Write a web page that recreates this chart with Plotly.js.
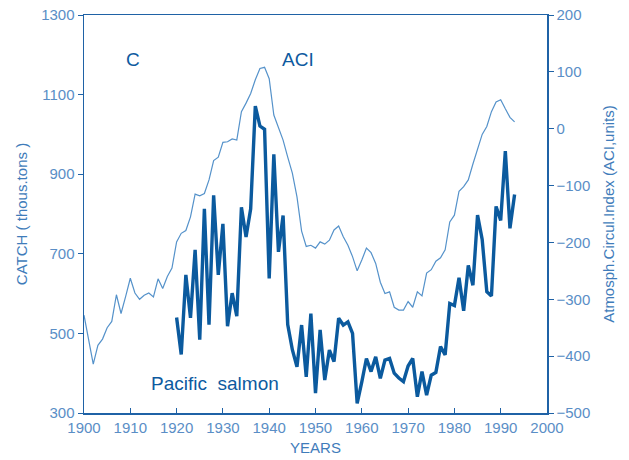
<!DOCTYPE html>
<html>
<head>
<meta charset="utf-8">
<script src="https://cdn.plot.ly/plotly-3.0.1.min.js"></script>
<style>html,body{margin:0;padding:0;background:#fff;}#chart{width:629px;height:460px;}</style>
</head>
<body>
<div id="chart"></div>
<script>
// ACI (Atmospheric Circulation Index), 1900-1993
const aciYears = [];
for (let y = 1900; y <= 1993; y++) aciYears.push(y);
const aciValues = [
  -328, -370, -414, -381, -370, -350, -339, -292, -325, -295,
  -263, -289, -300, -293, -289, -296, -264, -281, -260, -245,
  -199, -184, -179, -155, -115, -118, -114, -90, -56, -50,
  -24, -23, -18, -20, 30, 45, 62, 86, 106, 108,
  88, 24, 0, -20, -50, -78, -120, -180, -207, -205,
  -210, -199, -203, -196, -178, -171, -190, -205, -225, -250,
  -231, -210, -218, -237, -270, -290, -287, -314, -319, -319,
  -304, -314, -287, -294, -254, -248, -233, -227, -213, -164,
  -152, -110, -102, -90, -62, -35, -10, 4, 30, 47,
  51, 35, 20, 12
];

// Pacific salmon catch (thous. tons), 1920-1993
const salmonYears = [];
for (let y = 1920; y <= 1993; y++) salmonYears.push(y);
const salmonCatch = [
  540, 447, 647, 539, 710, 484, 813, 522, 847, 647,
  775, 518, 601, 543, 817, 742, 813, 1071, 1021, 1013,
  638, 950, 705, 796, 522, 459, 416, 521, 391, 550,
  350, 509, 383, 458, 429, 538, 521, 529, 500, 324,
  378, 437, 404, 441, 387, 433, 437, 400, 388, 379,
  418, 437, 341, 404, 345, 395, 402, 467, 446, 575,
  570, 640, 557, 671, 621, 797, 736, 605, 594, 819,
  784, 958, 764, 849
];

const axisColor = '#1f62a6';
const tickColor = '#5a8ec6';
const fontFam = 'Liberation Sans, Arial, sans-serif';

const traces = [
  {
    x: aciYears, y: aciValues, yaxis: 'y2', type: 'scatter', mode: 'lines',
    line: {color: '#5592ca', width: 1.2}, hoverinfo: 'skip'
  },
  {
    x: salmonYears, y: salmonCatch, yaxis: 'y', type: 'scatter', mode: 'lines',
    line: {color: '#0b5a9e', width: 3.4}, hoverinfo: 'skip'
  }
];

const layout = {
  width: 629, height: 460,
  margin: {l: 84, r: 82, t: 15, b: 47},
  paper_bgcolor: '#ffffff', plot_bgcolor: '#ffffff',
  showlegend: false,
  font: {family: fontFam, color: tickColor, size: 15},
  xaxis: {
    range: [1900, 2000], dtick: 10, tick0: 1900,
    showgrid: false, zeroline: false,
    showline: true, linecolor: axisColor, linewidth: 1.5, mirror: true,
    ticks: 'inside', ticklen: 5, tickcolor: axisColor, tickwidth: 1,
    tickfont: {family: fontFam, size: 15, color: tickColor},
    title: {text: 'YEARS', font: {family: fontFam, size: 15, color: '#3f7cba'}, standoff: 8}
  },
  yaxis: {
    range: [300, 1300], dtick: 200, tick0: 300,
    showgrid: false, zeroline: false,
    showline: true, linecolor: axisColor, linewidth: 1.5,
    ticks: 'outside', ticklen: 5, tickcolor: axisColor, tickwidth: 1,
    tickfont: {family: fontFam, size: 15, color: tickColor},
    title: {text: 'CATCH ( thous.tons )', font: {family: fontFam, size: 15, color: '#3f7cba'}, standoff: 10}
  },
  yaxis2: {
    overlaying: 'y', side: 'right',
    range: [-500, 200], dtick: 100, tick0: -500,
    showgrid: false, zeroline: false,
    showline: true, linecolor: axisColor, linewidth: 1.5,
    ticks: 'outside', ticklen: 5, tickcolor: axisColor, tickwidth: 1,
    tickfont: {family: fontFam, size: 15, color: tickColor},
    title: {text: 'Atmosph.Circul.Index (ACI,units)', font: {family: fontFam, size: 15, color: '#3f7cba'}, standoff: 14}
  },
  annotations: [
    {text: 'C', xref: 'paper', yref: 'paper', x: 0.106, y: 0.887, xanchor: 'center', yanchor: 'middle', showarrow: false,
     font: {family: fontFam, size: 19, color: '#0d5aa0'}},
    {text: 'ACI', xref: 'paper', yref: 'paper', x: 0.462, y: 0.887, xanchor: 'center', yanchor: 'middle', showarrow: false,
     font: {family: fontFam, size: 19, color: '#0d5aa0'}},
    {text: 'Pacific\u00a0 salmon', xref: 'paper', yref: 'paper', x: 0.284, y: 0.073, xanchor: 'center', yanchor: 'middle', showarrow: false,
     font: {family: fontFam, size: 19, color: '#0d5aa0'}}
  ]
};

Plotly.newPlot('chart', traces, layout, {staticPlot: true, displayModeBar: false});
</script>
</body>
</html>
